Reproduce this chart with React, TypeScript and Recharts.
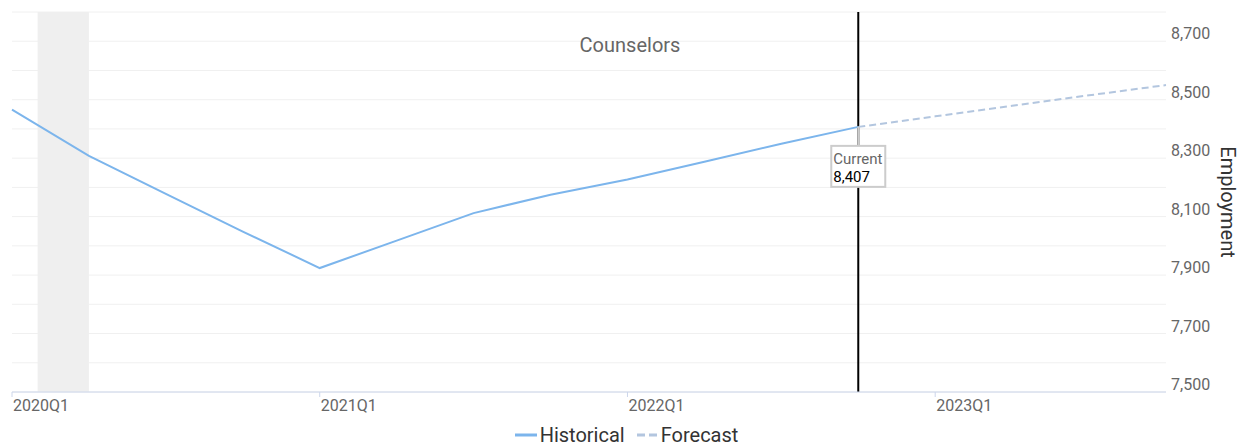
import React from 'react'
import {
  LineChart, Line, XAxis, YAxis, CartesianGrid, Legend,
  ReferenceArea, ReferenceLine, ReferenceDot,
} from 'recharts'

const quarters = [
  '2020Q1', '2020Q2', '2020Q3', '2020Q4',
  '2021Q1', '2021Q2', '2021Q3', '2021Q4',
  '2022Q1', '2022Q2', '2022Q3', '2022Q4',
  '2023Q1', '2023Q2', '2023Q3', '2023Q4',
]

// 2020Q1 .. 2022Q4
const historical = [8466, 8308, 8178, 8049, 7924, 8018, 8112, 8175, 8227, 8288, 8349, 8407]
// 2022Q4 .. 2023Q4
const forecast = [8407, 8443, 8479, 8515, 8550]
const forecastStart = 11

const xTicks = [0, 4, 8, 12]
const yTicks = [7500, 7600, 7700, 7800, 7900, 8000, 8100, 8200, 8300, 8400, 8500, 8600, 8700, 8800]
const yLabelled = [7500, 7700, 7900, 8100, 8300, 8500, 8700]

const recession = { from: 0.333, to: 1 }
const current = { index: 11, value: 8407 }

const data = quarters.map((q, i) => ({
  i,
  quarter: q,
  historical: i < historical.length ? historical[i] : null,
  forecast: i >= forecastStart ? forecast[i - forecastStart] : null,
}))

const FONT = 'Roboto, "Noto Sans", sans-serif'

function XTick({ x, y, payload }: any) {
  return (
    <g>
      <line x1={x} x2={x} y1={y - 8} y2={y - 3} stroke="#ccd6eb" />
      <text x={x + 1} y={y + 11} textAnchor="start" fontSize={16} fill="#666" fontFamily={FONT}>
        {quarters[payload.value]}
      </text>
    </g>
  )
}

function YTick({ x, y, payload }: any) {
  if (!yLabelled.includes(payload.value)) return null
  return (
    <text x={x - 3} y={y - 2} textAnchor="start" fontSize={16} fill="#666" fontFamily={FONT}>
      {payload.value.toLocaleString('en-US')}
    </text>
  )
}

function CurrentBox({ cx, cy }: any) {
  return (
    <g>
      <line x1={cx} x2={cx} y1={cy} y2={cy + 19} stroke="#ccc" strokeWidth={2} />
      <rect x={cx - 27} y={cy + 19} width={54} height={41} fill="#fff" stroke="#ccc" strokeWidth={2} />
      <text x={cx - 25} y={cy + 37} fontSize={15} fill="#666" fontFamily={FONT}>Current</text>
      <text x={cx - 25} y={cy + 55} fontSize={15} fill="#000" fontFamily={FONT}>
        {current.value.toLocaleString('en-US')}
      </text>
    </g>
  )
}

function LegendContent() {
  return (
    <div style={{ display: 'flex', justifyContent: 'center', alignItems: 'center', paddingRight: 8,
      fontFamily: FONT, fontSize: 20, color: '#333', height: 26 }}>
      <svg width={25} height={10}><line x1={0} x2={22} y1={5} y2={5} stroke="#7cb5ec" strokeWidth={3} /></svg>
      <span style={{ marginRight: 12 }}>Historical</span>
      <svg width={24} height={10}><line x1={0} x2={20} y1={5} y2={5} stroke="#b3c6df" strokeWidth={3} strokeDasharray="8 4" /></svg>
      <span>Forecast</span>
    </div>
  )
}

export default function App() {
  return (
    <div style={{ position: 'relative', width: 1249, height: 448, fontFamily: FONT }}>
      <style>{'body{margin:0}'}</style>
      <LineChart width={1249} height={448} data={data} margin={{ top: 12, right: 0, left: 12, bottom: 0 }}>
        <CartesianGrid vertical={false} stroke="#f0f0f0" horizontalValues={yTicks} />
        <XAxis
          dataKey="i"
          type="number"
          domain={[0, quarters.length - 1]}
          ticks={xTicks}
          interval={0}
          tick={<XTick />}
          tickLine={false}
          axisLine={{ stroke: '#ccd6eb' }}
          height={30}
        />
        <YAxis
          orientation="right"
          domain={[7500, 8800]}
          ticks={yTicks}
          interval={0}
          tick={<YTick />}
          tickLine={false}
          axisLine={false}
          width={83}
          label={({ viewBox }: any) => {
            const cx = viewBox.x + 62
            const cy = viewBox.y + viewBox.height / 2
            return (
              <text x={cx} y={cy} textAnchor="middle" dominantBaseline="central" fontSize={20}
                fill="#333" fontFamily={FONT} transform={`rotate(90, ${cx}, ${cy})`}>
                Employment
              </text>
            )
          }}
        />
        <ReferenceArea x1={recession.from} x2={recession.to} fill="#efefef" fillOpacity={1} stroke="none" />
        <ReferenceLine x={current.index} stroke="#000" strokeWidth={2} />
        <Legend verticalAlign="bottom" content={<LegendContent />} wrapperStyle={{ height: 26 }} />
        <Line
          dataKey="historical"
          name="Historical"
          stroke="#7cb5ec"
          strokeWidth={2}
          dot={false}
          activeDot={false}
          connectNulls={false}
          isAnimationActive={false}
        />
        <Line
          dataKey="forecast"
          name="Forecast"
          stroke="#b3c6df"
          strokeWidth={2}
          strokeDasharray="7 4"
          dot={false}
          activeDot={false}
          isAnimationActive={false}
        />
        <ReferenceDot x={current.index} y={current.value} shape={<CurrentBox />} />
      </LineChart>
      <div style={{ position: 'absolute', top: 33, left: 630, transform: 'translateX(-50%)',
        fontSize: 20, color: '#666', whiteSpace: 'nowrap', lineHeight: '24px' }}>
        Counselors
      </div>
    </div>
  )
}
